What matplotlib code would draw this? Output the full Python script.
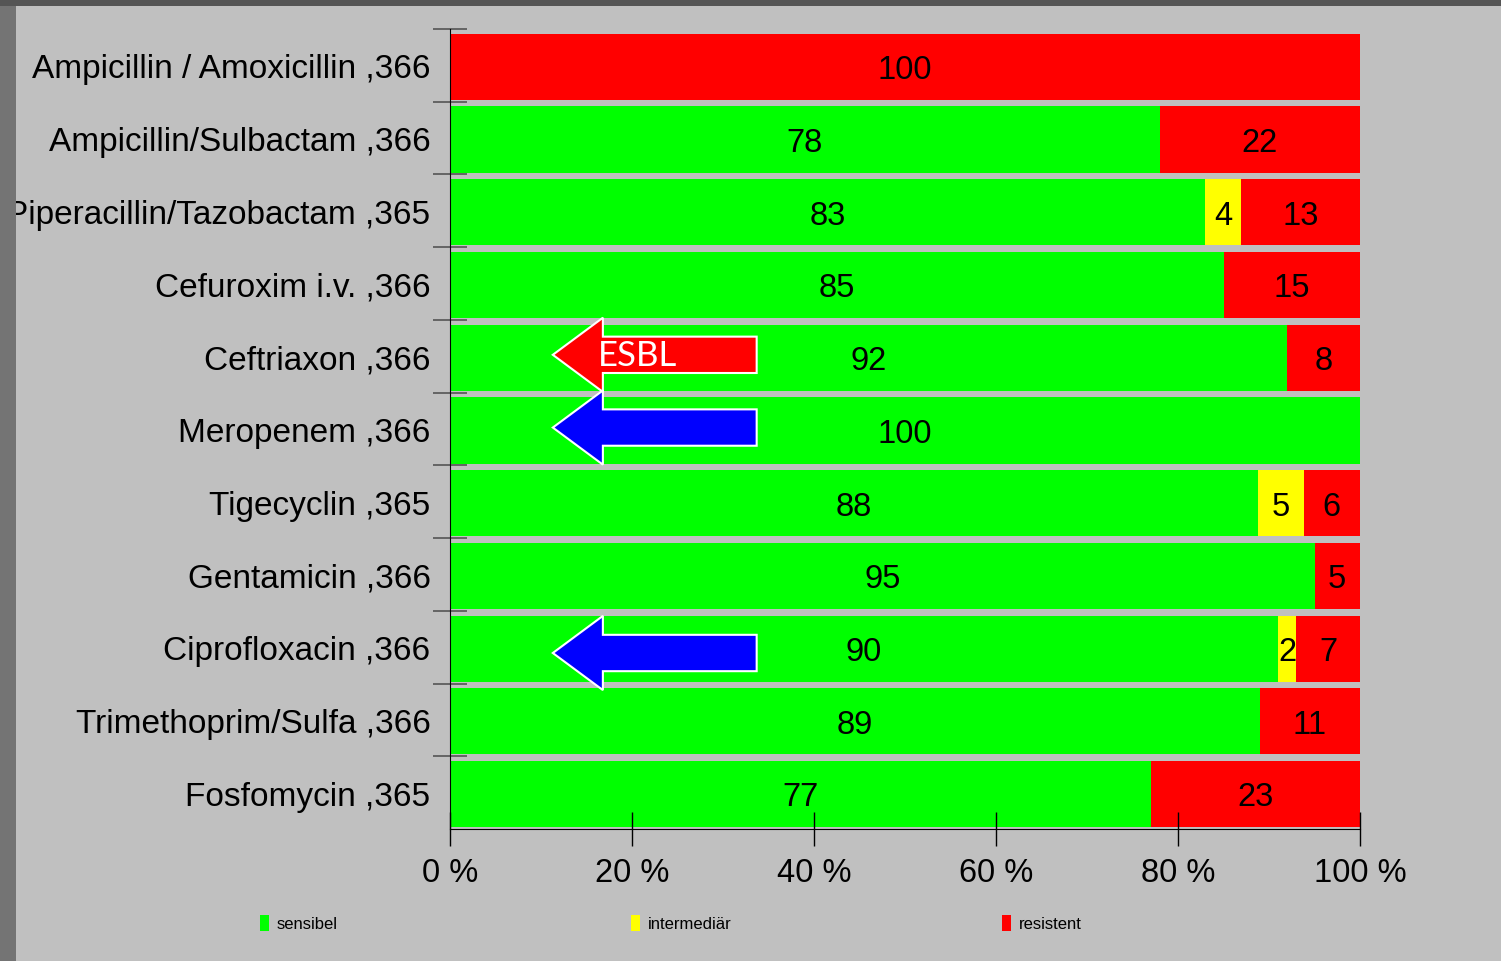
import numpy as np
import matplotlib.pyplot as plt
from matplotlib.patches import Rectangle, FancyArrow

drugs = ["Ampicillin / Amoxicillin ,366", "Ampicillin/Sulbactam ,366",
         "Piperacillin/Tazobactam ,365", "Cefuroxim i.v. ,366", "Ceftriaxon ,366",
         "Meropenem ,366", "Tigecyclin ,365", "Gentamicin ,366",
         "Ciprofloxacin ,366", "Trimethoprim/Sulfa ,366", "Fosfomycin ,365"]
sensibel = [0, 78, 83, 85, 92, 100, 88.8, 95, 91, 89, 77]
intermed = [0, 0, 3.9, 0, 0, 0, 5, 0, 2, 0, 0]
resistent = [100, 22, 13.1, 15, 8, 0, 6.2, 5, 7, 11, 23]
sens_lab = ["", "78", "83", "85", "92", "100", "88", "95", "90", "89", "77"]
inter_lab = ["", "", "4", "", "", "", "5", "", "2", "", ""]
res_lab = ["100", "22", "13", "15", "8", "", "6", "5", "7", "11", "23"]
xticks = [0, 20, 40, 60, 80, 100]

GREEN, YELLOW, RED = "#00ff00", "#ffff00", "#ff0000"
BG = "#c0c0c0"

plt.rcParams['font.family'] = ['Liberation Sans', 'DejaVu Sans']

fig = plt.figure(figsize=(15.01, 9.62), dpi=100, facecolor=BG)
ax = fig.add_axes([450 / 1501, 1 - 830 / 962, 910 / 1501, 800 / 962])
ax.set_facecolor(BG)

y = np.arange(len(drugs))
s = np.array(sensibel)
i = np.array(intermed)
r = np.array(resistent)
h = 0.91
ax.barh(y + 0.02, s, height=h, color=GREEN)
ax.barh(y + 0.02, i, left=s, height=h, color=YELLOW)
ax.barh(y + 0.02, r, left=s + i, height=h, color=RED)

for k in range(len(drugs)):
    segs = [(0, s[k], sens_lab[k]), (s[k], i[k], inter_lab[k]), (s[k] + i[k], r[k], res_lab[k])]
    for left, w, lab in segs:
        if lab:
            ax.text(left + w / 2, k + 0.06, lab, ha="center", va="center", fontsize=23.5, color="black")

ax.set_xlim(0, 100)
ax.set_ylim(len(drugs) - 0.5, -0.5)

ax.set_yticks(y)
ax.set_yticklabels(drugs, fontsize=24)
ax.tick_params(axis="y", which="major", length=0, pad=14)
ax.set_yticks(np.arange(-0.5, len(drugs) - 1, 1), minor=True)
ax.tick_params(axis="y", which="minor", direction="inout", length=24, width=1.2, color="#555555")

ax.set_xticks(xticks)
ax.set_xticklabels([f"{v} %" for v in xticks], fontsize=23.5)
ax.tick_params(axis="x", direction="inout", length=24, width=1, color="black", pad=8)

for side in ["top", "right"]:
    ax.spines[side].set_visible(False)
ax.spines["left"].set_color("black")
ax.spines["bottom"].set_color("black")

# arrows
arrows = [(4, RED), (5, "#0000ff"), (8.1, "#0000ff")]
for yc, col in arrows:
    ax.add_patch(FancyArrow(33.7, yc - 0.02, -22.4, 0, width=0.5, head_width=1.02,
                            head_length=5.5, length_includes_head=True,
                            facecolor=col, edgecolor="white", linewidth=1.5, zorder=5))
ax.text(16.3, 3.98, "ESBL", color="white", fontsize=25, family="Lato",
        ha="left", va="center", zorder=6)

# legend
leg = [("sensibel", GREEN, 260), ("intermediär", YELLOW, 631), ("resistent", RED, 1002)]
for name, col, px in leg:
    fig.patches.append(Rectangle((px / 1501, 1 - 932 / 962), 9 / 1501, 16 / 962,
                                 transform=fig.transFigure, facecolor=col, edgecolor="none"))
    fig.text((px + 17) / 1501, 1 - 925 / 962, name, fontsize=12, va="center", ha="left")

# dark frame
fig.patches.append(Rectangle((0, 0), 16 / 1501, 1, transform=fig.transFigure,
                             facecolor="#747474", edgecolor="none", zorder=10))
fig.patches.append(Rectangle((0, 1 - 7 / 962), 1, 7 / 962, transform=fig.transFigure,
                             facecolor="#555555", edgecolor="none", zorder=10))

fig.savefig("out.png", dpi=100, facecolor=BG)
